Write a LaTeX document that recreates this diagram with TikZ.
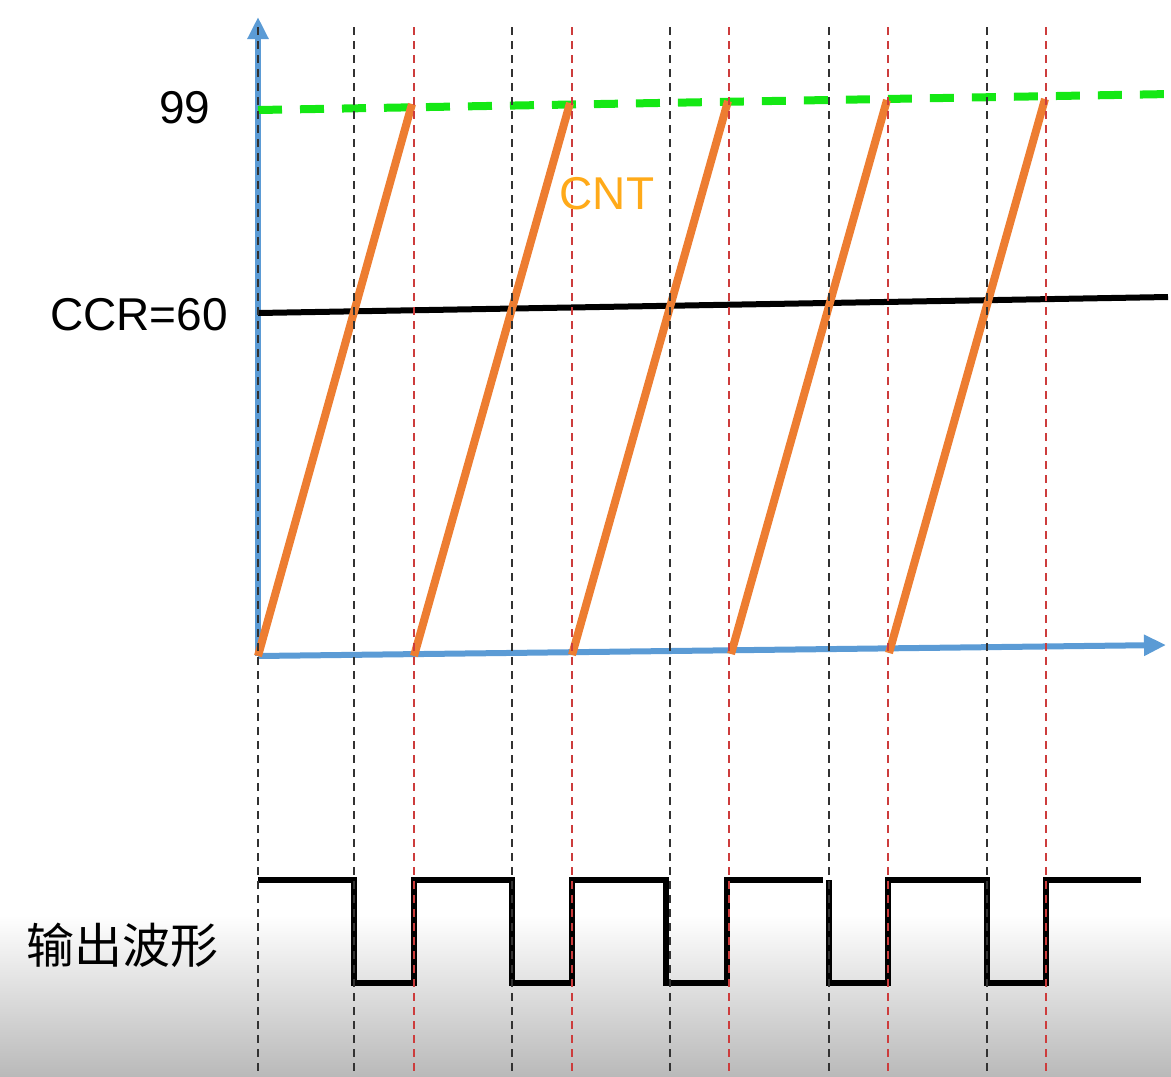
\documentclass[tikz,border=0pt]{standalone}
\usepackage{fontspec}
\setmainfont{Liberation Sans}
\newfontfamily\cjk{Noto Sans CJK SC}
\usetikzlibrary{arrows.meta}
\definecolor{axisblue}{RGB}{91,155,213}
\definecolor{cntorange}{RGB}{237,125,49}
\definecolor{cnttext}{RGB}{255,170,25}
\definecolor{limegreen}{RGB}{20,232,20}
\definecolor{gridblack}{RGB}{50,50,50}
\definecolor{gridred}{RGB}{205,60,60}
\definecolor{bottomgray}{RGB}{185,185,185}
\tikzset{
  axisline/.style={axisblue, line width=6pt, -{Triangle[length=22pt,width=20pt]}},
  ramp/.style={cntorange, line width=8pt},
  topline/.style={limegreen, line width=8pt, dash pattern=on 24pt off 18pt},
  ccrline/.style={black, line width=6pt},
  wave/.style={black, line width=6.5pt, line join=miter},
  gridb/.style={gridblack, line width=1.3pt, dash pattern=on 8pt off 6pt},
  gridr/.style={gridred, line width=1.3pt, dash pattern=on 8pt off 6pt},
  lbl/.style={font=\fontsize{46}{50}\selectfont, inner sep=0pt},
}
\begin{document}
\begin{tikzpicture}[x=1pt,y=-1pt]
\useasboundingbox (0,0) rectangle (1171,1077);
\shade[top color=white, bottom color=bottomgray] (0,915) rectangle (1171,1077);
% axes
\coordinate (O) at (258,656);
\coordinate (Ytop) at (258,17);
\coordinate (Xend) at (1166,645);
\draw[axisline] (O) -- (Ytop);
\draw[axisline] (O) -- (Xend);
% 99 line and CCR line
\coordinate (G1) at (258,110);
\coordinate (G2) at (1171,94);
\draw[topline] (G1) -- (G2);
\coordinate (C1) at (258,313);
\coordinate (C2) at (1168,297);
\draw[ccrline] (C1) -- (C2);
% ramps
\foreach \i/\xa/\ya/\xb/\yb in {1/258/656/412/104, 2/414/656/570/103, 3/572/655/728/101, 4/731/654/887/100, 5/889/653/1045/99}{
  \coordinate (Ra\i) at (\xa,\ya);
  \coordinate (Rb\i) at (\xb,\yb);
  \draw[ramp] (Ra\i) -- (Rb\i);
}
% output waveform
\coordinate (W0) at (258,880);
\coordinate (W1) at (823,880);
\coordinate (W2) at (829,880);
\coordinate (W3) at (1141,880);
\draw[wave] (W0) -- (354,880) -- (354,983) -- (414,983) -- (414,880) -- (512,880) -- (512,983) -- (572,983) -- (572,880) -- (666,880) -- (666,983) -- (727,983) -- (727,880) -- (W1);
\draw[wave] (W2) -- (829,983) -- (888,983) -- (888,880) -- (987,880) -- (987,983) -- (1046,983) -- (1046,880) -- (W3);
% dashed verticals
\foreach \x in {258,354,512,670,829,987}{
  \coordinate (Bt\x) at (\x,27);
  \coordinate (Bb\x) at (\x,1077);
  \draw[gridb] (Bt\x) -- (Bb\x);
}
\foreach \x in {414,572,729,888,1046}{
  \coordinate (Rt\x) at (\x,27);
  \coordinate (Rbb\x) at (\x,1077);
  \draw[gridr] (Rt\x) -- (Rbb\x);
}
% labels
\node[lbl] (n99) at (185,108) {99};
\node[lbl] (nccr) at (139,315) {CCR=60};
\node[lbl, text=cnttext] (ncnt) at (607,194) {CNT};
\node[inner sep=0pt, font=\cjk\fontsize{48}{52}\selectfont] (nout) at (123,945) {输出波形};
\end{tikzpicture}
\end{document}
